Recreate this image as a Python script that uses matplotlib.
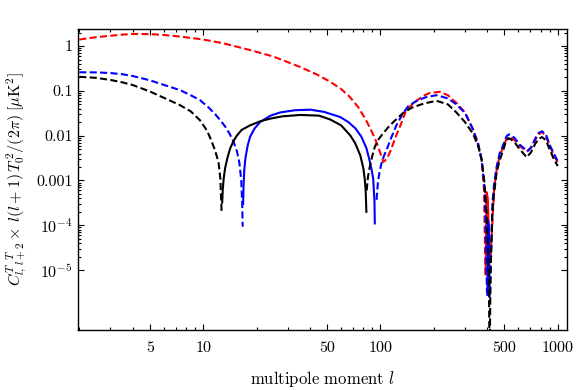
import matplotlib
matplotlib.use("Agg")
import matplotlib.pyplot as plt
import numpy as np
from matplotlib.ticker import FixedLocator, FixedFormatter, NullFormatter

plt.rcParams["font.family"] = "serif"
plt.rcParams["font.serif"] = ["cmr10", "DejaVu Serif"]
plt.rcParams["mathtext.fontset"] = "cm"
plt.rcParams["axes.formatter.use_mathtext"] = True

# signed values: positive parts are drawn dashed,
# negative parts solid (the plot shows |C|)
ell_black = [2, 2.5, 3, 3.5, 4, 5, 6, 7.4, 8.5, 9.6, 10.5, 11, 11.6, 12.2, 12.5, 12.7,
             12.8, 12.9, 13.05, 13.3, 13.7, 14.2, 14.8, 15.5, 16.5, 18.4, 21, 23.9,
             28, 35.3, 45, 52, 60, 67.6, 72, 77, 80, 81.5, 82.5, 83.3,
             83.6, 85, 87, 90, 93, 98, 103, 110, 118, 134, 150, 175, 207, 240, 268,
             300, 333, 355, 372, 385, 398, 408, 413, 418, 428, 437, 452, 470, 493,
             510, 530, 565, 610, 668, 705, 745, 780, 815, 855, 904, 950, 1000]
val_black = [0.206, 0.195, 0.175, 0.155, 0.135, 0.097, 0.07, 0.048, 0.035, 0.022, 0.013,
             0.0086, 0.005, 0.0026, 0.0011, 2e-4,
             -3.2e-4, -6.4e-4, -0.0011, -0.0019, -0.0032, -0.0052, -0.0075, -0.0101,
             -0.0135, -0.017, -0.021, -0.024, -0.027, -0.029, -0.028, -0.023, -0.017,
             -0.0101, -0.0068, -0.0036, -0.0019, -0.0011, -6e-4, -2e-4,
             6e-4, 0.0012, 0.002, 0.0036, 0.0057, 0.0085, 0.011, 0.015, 0.02, 0.032,
             0.042, 0.052, 0.06, 0.05, 0.033, 0.02, 0.011, 0.006, 0.0029, 0.001,
             1.5e-4, 1e-5, 1e-7, 1e-5, 2e-4, 5e-4, 0.0015, 0.0028, 0.0048, 0.0075,
             0.0088, 0.0075, 0.005, 0.0033, 0.0042, 0.0065, 0.0085, 0.0093, 0.008,
             0.0048, 0.003, 0.0021]

ell_blue = [2, 2.5, 3, 3.5, 4, 5, 6, 7.4, 8.5, 9.6, 10.7, 11.7, 12.5, 13.3, 14.1, 14.8,
            15.5, 16.0, 16.4, 16.6, 16.7,
            16.8, 16.9, 17.05, 17.3, 17.8, 18.4, 19.5, 21, 24, 27.2, 33, 40.3, 48,
            59.4, 66, 72.3, 78, 83.3, 87, 89, 91, 92.5, 92.9,
            95, 97, 99, 101, 104.5, 108, 115, 123, 133, 143, 160, 180, 207, 240, 268,
            300, 333, 355, 372, 388, 399,
            401, 404, 409, 413,
            415, 428, 437, 452, 470, 493, 515, 532, 570, 610, 676, 710, 745, 780,
            815, 855, 904, 950, 1000]
val_blue = [0.26, 0.258, 0.25, 0.235, 0.215, 0.172, 0.136, 0.104, 0.08, 0.062, 0.043,
            0.03, 0.022, 0.016, 0.011, 0.0075, 0.0045, 0.0025, 0.001, 3e-4, 9.3e-5,
            -3e-4, -8e-4, -0.0017, -0.0031, -0.0059, -0.0095, -0.0145, -0.0203,
            -0.028, -0.033, -0.037, -0.038, -0.034, -0.026, -0.02, -0.0145, -0.0095,
            -0.0053, -0.0027, -0.0018, -0.0011, -3.5e-4, -1.1e-4,
            3.7e-4, 0.001, 0.0016, 0.0023, 0.0035, 0.0047, 0.009, 0.017, 0.03, 0.045,
            0.06, 0.072, 0.08, 0.068, 0.05, 0.032, 0.0137, 0.0065, 0.003, 6e-4, 3e-6,
            -2.8e-6, -1.3e-4, -1e-4, -2.5e-6,
            3e-6, 3e-4, 8e-4, 0.002, 0.004, 0.0063, 0.0098, 0.0107, 0.009, 0.0063,
            0.0045, 0.0055, 0.0085, 0.0115, 0.0125, 0.011, 0.006, 0.004, 0.0027]

ell_red = [2, 2.5, 3, 3.5, 4, 5, 6, 7.4, 10, 13, 18.5, 25, 35, 44, 52, 60, 67, 75, 82,
           88, 94, 99, 104, 109, 114, 122, 130, 140, 160, 175, 190, 216, 240, 268,
           300, 333, 355, 372, 384, 391,
           392, 397, 403, 412,
           418, 437, 452, 470, 493, 515, 537, 570, 612, 668, 700, 740, 775, 810,
           850, 904, 950, 1000]
val_red = [1.4, 1.58, 1.7, 1.8, 1.86, 1.85, 1.77, 1.63, 1.4, 1.15, 0.81, 0.58, 0.344,
           0.23, 0.16, 0.11, 0.074, 0.043, 0.024, 0.014, 0.0079, 0.0045, 0.0026,
           0.0031, 0.0046, 0.0095, 0.0175, 0.038, 0.06, 0.078, 0.09, 0.095, 0.08,
           0.054, 0.033, 0.0137, 0.007, 0.0029, 6e-4, 8e-6,
           -8e-6, -5.5e-4, -4e-4, -2.5e-5,
           2e-5, 6e-4, 0.0017, 0.0035, 0.0058, 0.0085, 0.0094, 0.008, 0.0058,
           0.0045, 0.0052, 0.0075, 0.0105, 0.012, 0.0105, 0.0058, 0.0037, 0.0025]

x_major = [5, 10, 50, 100, 500, 1000]
x_major_labels = ["5", "10", "50", "100", "500", "1000"]
y_major = [1e-5, 1e-4, 1e-3, 1e-2, 1e-1, 1]
y_major_labels = [r"$10^{-5}$", r"$10^{-4}$", "0.001", "0.01", "0.1", "1"]


def sign_runs(ell, vals):
    runs = []
    start = 0
    for i in range(1, len(vals) + 1):
        if i == len(vals) or np.sign(vals[i]) != np.sign(vals[start]):
            runs.append((ell[start:i], vals[start:i]))
            start = i
    return runs


fig = plt.figure(figsize=(5.76, 3.9), dpi=100)
ax = fig.add_axes([0.1354, 0.1538, 0.8490, 0.7718])

for ell, vals, color in [(ell_red, val_red, "red"),
                         (ell_blue, val_blue, "blue"),
                         (ell_black, val_black, "black")]:
    for seg_l, seg_v in sign_runs(ell, vals):
        v = np.abs(seg_v)
        if seg_v[0] > 0:
            ax.plot(seg_l, v, color=color, lw=1.5, dashes=(3.4, 1.6))
        else:
            ax.plot(seg_l, v, color=color, lw=1.5)

ax.set_xscale("log")
ax.set_yscale("log")
ax.set_xlim(1.967, 1128)
ax.set_ylim(4.6e-7, 2.4)

x_minor = [m * d for d in (1, 10, 100) for m in range(2, 10) if m * d not in x_major]
y_minor = [m * 10.0 ** e for e in range(-5, 1) for m in range(2, 10)]
y_minor = [v for v in y_minor if v < 2.4]
ax.xaxis.set_major_locator(FixedLocator(x_major))
ax.xaxis.set_major_formatter(FixedFormatter(x_major_labels))
ax.xaxis.set_minor_locator(FixedLocator(x_minor))
ax.xaxis.set_minor_formatter(NullFormatter())
ax.yaxis.set_major_locator(FixedLocator(y_major))
ax.yaxis.set_major_formatter(FixedFormatter(y_major_labels))
ax.yaxis.set_minor_locator(FixedLocator(y_minor))
ax.yaxis.set_minor_formatter(NullFormatter())

ax.tick_params(which="both", direction="in", top=True, right=True, width=0.8)
ax.tick_params(which="major", length=4.5, labelsize=11.5)
ax.tick_params(which="minor", length=2.5)
ax.tick_params(axis="x", which="major", pad=8)
ax.tick_params(axis="y", which="major", pad=4)
for s in ax.spines.values():
    s.set_linewidth(1.0)

ax.set_xlabel(r"multipole moment $l$", fontsize=12)
ax.xaxis.set_label_coords(0.5, -0.13)
ax.set_ylabel(r"$C_{l,\,l+2}^{T\ \ T}\times\,l(l+1)\,T_0^{\,2}/(2\pi)\;[\mu\mathrm{K}^2]$",
              fontsize=11.5)
ax.yaxis.set_label_coords(-0.1, 0.5)

fig.savefig("out.png", dpi=100)
